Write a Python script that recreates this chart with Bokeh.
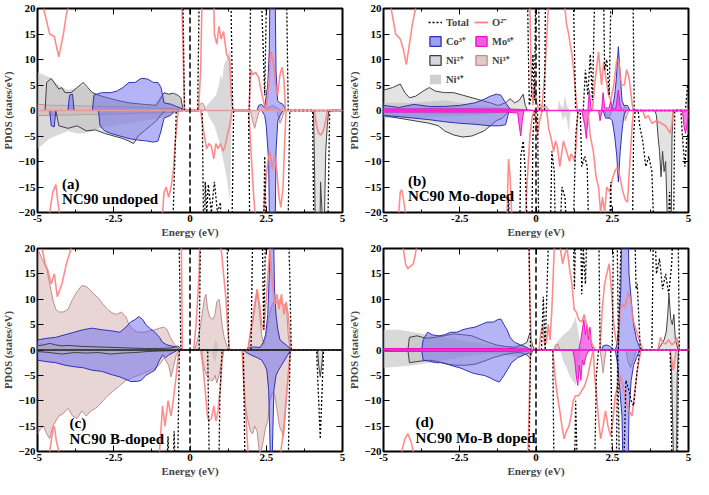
from bokeh.plotting import figure
from bokeh.models import (ColumnDataSource, FixedTicker, LinearAxis, Span, Legend,
                          LegendItem, Range1d, Label)
from bokeh.layouts import gridplot
from bokeh.embed import file_html
from bokeh.resources import INLINE

# ---------------- data (energy eV, PDOS states/eV); +-30 = off scale ----------------
# Panel (a) NC90 undoped
a_tot_up = [(-5,30),(-0.25,30),(-0.18,0),(0.25,0),(0.32,30),(1.32,30),(1.4,0),(1.95,0),(2.0,30),(2.3,30),(2.45,3),(2.53,30),(3.15,30),(3.22,0),(5,0)]
a_tot_dn = [(-5,-30),(-0.6,-30),(-0.45,0),(0.4,0),(0.46,-30),(0.5,-14),(0.55,-20),(0.6,-14.5),(0.7,-20),(0.8,-14),(0.9,-20),(1.0,-18),(1.05,-30),(1.36,-30),(1.43,0),(1.92,0),(1.97,-30),(2.4,-30),(2.45,-9),(2.52,-30),(3.2,-30),(3.27,0),(4.02,0),(4.07,-30),(4.5,-30),(4.58,0),(5,0)]
a_o_up = [(-5,30),(-4.8,20),(-4.6,15),(-4.45,14.5),(-4.3,10.5),(-4.15,15),(-4.05,19),(-3.95,21),(-3.9,30),(-0.3,30),(-0.22,10),(-0.18,0),(0.28,0),(0.35,8),(0.42,30),(0.75,30),(0.8,15),(0.88,13),(0.95,16.5),(1.02,14),(1.1,15.5),(1.2,11),(1.3,10),(1.35,3),(1.4,0),(1.93,0),(1.97,5),(2.0,8),(2.05,7),(2.15,7.5),(2.25,6.5),(2.33,4),(2.42,1.5),(2.5,0),(2.58,5),(2.65,11.5),(2.72,10),(2.8,5),(2.87,3),(2.95,7),(3.02,8.5),(3.08,6),(3.13,0),(5,0)]
a_o_dn = [(-5,-30),(-4.65,-30),(-4.6,-20),(-4.5,-16),(-4.4,-14.5),(-4.33,-18),(-4.28,-20),(-4.2,-30),(-0.95,-30),(-0.9,-20),(-0.85,-16),(-0.78,-15),(-0.7,-17),(-0.62,-15),(-0.55,-12),(-0.48,-6),(-0.42,-2),(-0.38,0),(0.35,0),(0.42,-3),(0.5,-6),(0.55,-7.5),(0.62,-6.5),(0.7,-7),(0.78,-9.5),(0.85,-6.5),(0.92,-7.5),(1.0,-6.5),(1.08,-8),(1.15,-7),(1.22,-5),(1.3,-3),(1.38,0),(1.93,0),(2.0,-8),(2.08,-16),(2.13,-20),(2.2,-30),(2.35,-30),(2.42,-20),(2.47,-15),(2.55,-10),(2.62,-8),(2.7,-11.5),(2.78,-9),(2.85,-12),(2.92,-17),(2.98,-19),(3.05,-15),(3.1,-7),(3.15,0),(4.08,0),(4.15,-3),(4.22,-4.5),(4.3,-4.8),(4.38,-3.8),(4.45,-2),(4.5,0),(5,0)]
a_co_up = [(-5,0),(-4.0,0),(-3.95,3.0),(-3.85,3.2),(-3.8,0),(-3.2,0),(-3.15,3),(-2.9,3.5),(-2.6,3.5),(-2.4,3.8),(-2.2,4.5),(-2.0,5.5),(-1.8,5.5),(-1.6,6.3),(-1.4,6.2),(-1.2,5.5),(-1.05,5.5),(-0.95,4.5),(-0.85,1.5),(-0.6,1.2),(-0.45,0.8),(-0.3,0.5),(-0.2,0),(2.2,0),(2.25,1),(2.35,1.2),(2.45,0.5),(2.5,3),(2.55,5),(2.6,12),(2.63,30),(2.78,30),(2.82,8),(2.87,2),(2.95,1.5),(3.05,1.2),(3.15,0),(5,0)]
a_co_dn = [(-5,0),(-4.6,0),(-4.55,-3),(-4.45,-3.2),(-4.4,0),(-3.0,0),(-2.95,-3),(-2.8,-4),(-2.6,-4.5),(-2.3,-5),(-2.0,-5.5),(-1.7,-5.8),(-1.4,-6),(-1.2,-6.2),(-1.05,-6),(-0.95,-4),(-0.85,-1.5),(-0.65,-1),(-0.5,0),(2.35,0),(2.45,-1),(2.5,-3),(2.58,-10),(2.62,-30),(2.78,-30),(2.82,-8),(2.88,-2),(2.95,-1),(3.05,0),(5,0)]
a_ni2_up = [(-5,0),(-4.75,0),(-4.7,5.5),(-4.55,6.3),(-4.4,5),(-4.3,4.2),(-4.2,4.5),(-4.1,3.5),(-3.9,3.5),(-3.7,4.5),(-3.5,5.5),(-3.35,4.5),(-3.2,3.5),(-3.0,3.0),(-2.7,2.5),(-2.4,2),(-2.0,1.5),(-1.5,1.2),(-1.1,1),(-0.95,2.5),(-0.85,3.5),(-0.7,3.2),(-0.55,3.4),(-0.4,3.0),(-0.3,2.5),(-0.22,0),(5,0)]
a_ni2_dn = [(-5,0),(-4.4,0),(-4.3,-3),(-4.0,-3.5),(-3.7,-3),(-3.4,-4),(-3.1,-3.8),(-2.8,-4.5),(-2.5,-5),(-2.2,-5.5),(-2.0,-6),(-1.85,-6.5),(-1.7,-5),(-1.5,-4),(-1.3,-3),(-1.1,-2),(-0.95,-0.8),(-0.8,0),(4.05,0),(4.08,-10),(4.12,-30),(4.25,-30),(4.28,-14),(4.33,-20),(4.38,-30),(4.45,-8),(4.5,-3),(4.55,0),(5,0)]
a_ni3_up = [(-5,1.2),(-4.5,1),(-4,1),(-3.5,0.9),(-3,0.8),(-2.5,0.8),(-2,0.7),(-1.5,0.6),(-1,0.5),(-0.5,0.3),(-0.2,0),(0.25,0),(0.3,1),(0.38,1.5),(0.45,1.2),(0.5,0),(2.5,0),(2.55,0.5),(2.7,1),(2.85,0.5),(3.0,0),(5,0)]
a_ni3_dn = [(-5,-1),(-4.5,-0.9),(-4,-0.9),(-3.5,-0.8),(-3,-0.8),(-2.5,-0.7),(-2,-0.6),(-1.5,-0.5),(-1,-0.5),(-0.5,-0.3),(-0.2,0),(1.98,0),(2.05,-2),(2.12,-3.5),(2.18,-2),(2.25,-0.5),(2.3,0),(2.85,0),(2.9,-1.5),(2.95,-2.5),(3.02,-1.5),(3.1,0),(5,0)]
a_ni4_up = [(-5,7.5),(-4.8,7),(-4.6,6.5),(-4.4,5.5),(-4.2,4.5),(-4,4),(-3.7,4.5),(-3.5,5),(-3.3,4),(-3,3),(-2.7,2.5),(-2.4,2),(-2,1.5),(-1.6,1.2),(-1.2,1),(-1,2.5),(-0.85,3.5),(-0.6,3.2),(-0.4,3),(-0.3,2),(-0.22,0),(0.45,0),(0.55,1),(0.7,2),(0.85,3),(0.95,5),(1.0,7),(1.05,6),(1.12,9),(1.2,10),(1.28,11.5),(1.33,12),(1.37,0),(5,0)]
a_ni4_dn = [(-5,-7.5),(-4.8,-6.5),(-4.6,-5.5),(-4.4,-5),(-4.2,-4.5),(-4,-4),(-3.7,-4.5),(-3.5,-4.5),(-3.2,-4),(-3,-3.5),(-2.5,-3),(-2,-2.5),(-1.5,-2),(-1,-1.5),(-0.6,-1),(-0.3,0),(0.55,0),(0.6,-1),(0.7,-2),(0.8,-3),(0.9,-5),(1.0,-7),(1.1,-10),(1.2,-13),(1.27,-16),(1.32,-18),(1.37,0),(5,0)]

# Panel (b) NC90 Mo-doped
b_tot_up = [(-5,30),(-0.3,30),(-0.22,1),(-0.15,3),(-0.1,11),(-0.05,2),(0.0,30),(0.08,30),(0.12,0),(0.28,0),(0.32,30),(1.2,30),(1.3,0),(1.55,0),(1.62,8),(1.7,3),(1.78,11),(1.85,2),(1.95,30),(2.2,30),(2.25,8),(2.32,10),(2.4,3),(2.48,30),(3.17,30),(3.22,0),(4.9,0),(4.97,5),(5,5)]
b_tot_dn = [(-5,-30),(-0.95,-30),(-0.9,-17),(-0.82,-30),(-0.55,-30),(-0.5,-9),(-0.42,-6),(-0.35,-12),(-0.25,-30),(-0.15,-30),(-0.1,-5),(-0.05,0),(0.05,0),(0.1,-30),(0.45,-30),(0.52,-8),(0.6,-12),(0.65,-30),(0.75,-30),(0.85,-15),(0.95,-17),(1.05,-30),(1.2,-30),(1.3,-5),(1.38,0),(1.45,0),(1.5,-11),(1.6,-9),(1.68,-11),(1.75,-30),(2.4,-30),(2.45,-14),(2.5,-30),(3.15,-30),(3.2,-5),(3.25,0),(3.35,0),(3.4,-3),(3.5,-6),(3.6,-11),(3.7,-9),(3.8,-12),(3.9,-30),(4.3,-30),(4.38,-16),(4.45,-30),(4.5,-30),(4.55,0),(4.75,0),(4.8,-5),(4.88,-11),(4.95,-5),(5,-5)]
b_o_up = [(-5,30),(-4.75,20),(-4.6,15),(-4.45,14),(-4.35,12),(-4.25,9),(-4.15,13),(-4.05,17),(-3.95,20),(-3.85,30),(-0.3,30),(-0.2,20),(-0.15,5),(-0.1,1),(-0.05,5.5),(0.0,2),(0.1,0),(0.2,1),(0.3,8),(0.4,20),(0.45,30),(0.9,30),(0.95,20),(1.0,17),(1.07,15),(1.12,13),(1.18,11),(1.25,7),(1.32,2),(1.36,0),(1.85,0),(1.92,5),(2.0,9),(2.05,11.5),(2.1,8),(2.15,5),(2.22,9.5),(2.3,6),(2.38,3),(2.45,2),(2.55,5),(2.65,10),(2.72,9.5),(2.8,5),(2.9,5),(2.97,8),(3.05,6.5),(3.12,3),(3.18,0),(5,0)]
b_o_dn = [(-5,-30),(-4.55,-30),(-4.5,-20),(-4.45,-16),(-4.4,-15.5),(-4.33,-18),(-4.28,-20),(-4.2,-30),(-1.0,-30),(-0.95,-20),(-0.9,-9.5),(-0.85,-13),(-0.8,-20),(-0.75,-30),(-0.4,-30),(-0.3,-15),(-0.2,-5),(-0.12,-1),(-0.05,0),(0.0,-2),(0.05,-4.8),(0.12,-2),(0.2,0),(0.35,0),(0.42,-3.7),(0.5,-5.6),(0.58,-8),(0.64,-6),(0.7,-7),(0.78,-11),(0.84,-8.5),(0.9,-6),(1.0,-8),(1.1,-10),(1.15,-8.5),(1.2,-9),(1.27,-10),(1.32,-6.5),(1.37,0),(1.7,0),(1.78,-5),(1.88,-8),(1.97,-13),(2.05,-15),(2.12,-20),(2.18,-17),(2.25,-20),(2.32,-15),(2.42,-16),(2.5,-13.5),(2.58,-12),(2.67,-11),(2.75,-13),(2.85,-16),(2.93,-17.5),(3.0,-18),(3.08,-10),(3.15,-3),(3.2,0),(3.5,0),(3.58,-1.5),(3.68,-1),(3.8,-2.5),(3.95,-2),(4.1,-2.5),(4.25,-3),(4.4,-4.5),(4.45,-3),(4.5,0),(5,0)]
b_co_up = [(-5,1),(-4.5,0.6),(-4,1.2),(-3.5,0.8),(-3,0.8),(-2.5,1),(-2,1.5),(-1.7,2.2),(-1.5,2.8),(-1.3,3.2),(-1.15,3),(-1.0,1.5),(-0.85,0.3),(-0.8,0),(2.45,0),(2.52,1),(2.58,3),(2.63,6),(2.7,12.5),(2.76,7),(2.82,2),(2.88,1),(3.0,1),(3.08,0),(5,0)]
b_co_dn = [(-5,-1),(-4.5,-1.2),(-4.0,-1.5),(-3.5,-1.8),(-3.0,-2.2),(-2.5,-2.5),(-2.0,-2.7),(-1.5,-3),(-1.2,-3),(-1.0,-2.8),(-0.9,-0.5),(-0.85,0),(2.2,0),(2.28,-1.5),(2.42,-1.5),(2.5,-2),(2.58,-5),(2.65,-9),(2.7,-14),(2.76,-8),(2.82,-4),(2.88,-1),(2.95,0),(5,0)]
b_ni2_up = [(-5,4),(-4.7,4.5),(-4.45,5.2),(-4.3,3.5),(-4.15,2.5),(-3.95,2.8),(-3.7,3.8),(-3.5,4.5),(-3.3,3.8),(-3.0,3.5),(-2.7,3.5),(-2.4,3),(-2.1,2.5),(-1.8,2),(-1.5,1.5),(-1.25,1),(-1.0,1.5),(-0.85,2.3),(-0.7,1.5),(-0.55,2),(-0.42,3.2),(-0.35,1),(-0.28,0),(5,0)]
b_ni2_dn = [(-5,-1),(-4.5,-1.5),(-4.0,-2),(-3.5,-2.5),(-3.2,-3),(-3.0,-4),(-2.7,-4.8),(-2.4,-5.2),(-2.1,-5),(-1.9,-4.5),(-1.7,-4),(-1.5,-3),(-1.3,-2),(-1.1,-1.5),(-0.95,-0.5),(-0.9,0),(3.9,0),(3.95,-1),(4.0,-5),(4.05,-8),(4.1,-13),(4.15,-8),(4.2,-12),(4.25,-10),(4.3,-20),(4.35,-30),(4.42,-30),(4.46,-5),(4.5,0),(5,0)]
b_ni3_up = [(-5,0.3),(-4,0.3),(-3,0.5),(-2,0.3),(-1,0.2),(-0.3,0),(0.15,0),(0.2,0.8),(0.35,0.8),(0.42,0),(2.85,0),(2.9,0.8),(3.0,0.3),(3.05,0),(5,0)]
b_ni3_dn = [(-5,-0.3),(-3,-0.5),(-2,-0.5),(-1,-0.3),(-0.3,0),(2.25,0),(2.3,-1),(2.4,-1.5),(2.48,0),(2.88,0),(2.93,-2),(2.98,-1),(3.05,0),(5,0)]
b_ni4_up = [(-5,1.5),(-4,1.5),(-3,2),(-2.5,1.5),(-2,1),(-1.5,0.8),(-1,0.5),(-0.5,0.3),(-0.3,0),(0.7,0),(0.75,2),(0.82,1),(0.88,0.5),(0.95,3),(1.02,1),(1.1,0),(5,0)]
b_ni4_dn = [(-5,-1.5),(-4,-1.5),(-3,-1.2),(-2,-1),(-1,-0.5),(-0.3,0),(0.8,0),(0.88,-2),(0.95,-1),(1.02,-2),(1.08,-4.5),(1.12,-1),(1.15,0),(5,0)]
b_mo_up = [(-5,0.3),(-4,0.3),(-3,0.3),(-2,0.3),(-1,0.3),(-0.5,0.2),(0,0),(1.7,0),(1.75,4),(1.8,0.5),(1.85,0),(2.15,0),(2.2,3.5),(2.25,0.5),(2.4,0.5),(2.45,2),(2.5,0.3),(2.62,0.5),(2.7,4),(2.76,1),(2.82,0),(5,0)]
b_mo_dn = [(-5,-0.3),(-4,-0.3),(-3,-0.3),(-2,-0.3),(-1,-0.3),(-0.6,-0.5),(-0.55,-3),(-0.5,-5),(-0.45,-2),(-0.4,0),(1.5,0),(1.55,-1.5),(1.6,-3),(1.65,-5.5),(1.7,-2),(1.75,0),(2.05,0),(2.1,-2),(2.15,-0.5),(2.2,0),(4.8,0),(4.85,-3),(4.9,-4.5),(4.95,-3),(5,-1)]

# Panel (c) NC90 B-doped
c_tot_up = [(-5,30),(-0.38,30),(-0.3,0),(0.3,0),(0.36,30),(1.2,30),(1.27,0),(2.0,0),(2.07,30),(2.35,30),(2.42,4),(2.5,30),(3.2,30),(3.27,15),(3.32,0),(5,0)]
c_tot_dn = [(-5,-30),(-0.8,-30),(-0.72,-17),(-0.66,-30),(-0.58,-30),(-0.52,-16),(-0.46,-30),(-0.42,-30),(-0.35,0),(0.58,0),(0.65,-30),(0.93,-30),(0.98,-9),(1.05,0),(1.75,0),(1.82,-30),(3.2,-30),(3.28,0),(4.15,0),(4.22,-10),(4.27,-17.5),(4.33,-8),(4.38,0),(5,0)]
c_o_up = [(-5,30),(-4.85,20),(-4.75,17),(-4.65,15.5),(-4.55,13),(-4.45,15),(-4.35,10.5),(-4.2,13),(-4.05,17),(-3.9,20),(-3.8,30),(-0.3,30),(-0.25,0),(0.12,0),(0.2,5),(0.3,15),(0.35,30),(0.95,30),(1.02,20),(1.1,15),(1.18,10),(1.25,3),(1.3,0),(1.9,0),(1.97,3),(2.05,6),(2.12,9),(2.2,12),(2.28,9),(2.35,5),(2.42,4),(2.5,10),(2.57,16),(2.62,20),(2.7,13),(2.78,9),(2.85,11),(2.92,8),(3.0,11),(3.08,7),(3.15,9.5),(3.22,7),(3.28,2),(3.32,0),(5,0)]
c_o_dn = [(-5,-30),(-4.65,-30),(-4.6,-20),(-4.5,-16),(-4.45,-15),(-4.38,-18),(-4.3,-20),(-4.25,-30),(-1.05,-30),(-1.0,-20),(-0.9,-11),(-0.82,-15),(-0.72,-10),(-0.62,-13),(-0.55,-10),(-0.45,-5),(-0.38,-1),(-0.32,0),(0.35,0),(0.42,-3),(0.5,-8),(0.57,-13),(0.62,-14),(0.7,-13.5),(0.78,-11),(0.85,-14),(0.92,-12),(1.0,-7),(1.05,-2),(1.1,0),(1.72,0),(1.78,-8),(1.85,-15),(1.9,-20),(1.95,-30),(2.9,-30),(2.98,-20),(3.08,-15),(3.18,-8),(3.25,-3),(3.3,0),(5,0)]
c_co_up = [(-5,2),(-4.7,2.3),(-4.4,2.5),(-4.1,3),(-3.8,3.5),(-3.5,4),(-3.2,4.3),(-2.9,4),(-2.6,3.8),(-2.3,3.5),(-2.1,4.5),(-1.95,5.5),(-1.8,6),(-1.68,6.6),(-1.55,6),(-1.45,5),(-1.3,4.2),(-1.15,3.5),(-1.0,2.5),(-0.9,1.5),(-0.75,1),(-0.6,0.8),(-0.45,0.5),(-0.3,0),(1.85,0),(1.9,0.5),(2.1,0.6),(2.3,0.5),(2.4,1.5),(2.48,3),(2.55,7),(2.6,15),(2.64,30),(2.72,30),(2.77,12),(2.82,7),(2.88,4),(2.95,2),(3.05,1.5),(3.15,1),(3.25,0.5),(3.3,0),(5,0)]
c_co_dn = [(-5,-2),(-4.7,-2.3),(-4.4,-2.5),(-4.1,-3),(-3.8,-3.3),(-3.5,-3.5),(-3.2,-4),(-2.9,-4.2),(-2.6,-4.8),(-2.3,-5.3),(-2.1,-5.8),(-1.95,-6.2),(-1.75,-6.2),(-1.6,-6),(-1.45,-5),(-1.3,-4.5),(-1.15,-4),(-1.0,-2),(-0.9,-1),(-0.8,-1.5),(-0.7,-1),(-0.55,-0.5),(-0.4,0),(1.75,0),(1.85,-0.5),(2.0,-1),(2.2,-1.5),(2.35,-2),(2.45,-3),(2.52,-4),(2.58,-8),(2.63,-20),(2.66,-30),(2.7,-20),(2.75,-8),(2.82,-5),(2.9,-4),(3.0,-3),(3.1,-2),(3.2,-1),(3.3,0),(5,0)]
c_ni2_up = [(-5,0.8),(-4.8,1),(-4.6,1.3),(-4.4,1),(-4.2,0.8),(-4.0,0.9),(-3.5,0.7),(-3.0,0.6),(-2.5,0.5),(-2.0,0.4),(-1.5,0.3),(-1.0,0.3),(-0.6,0.4),(-0.4,0.8),(-0.3,0.3),(-0.2,0),(5,0)]
c_ni2_dn = [(-5,-0.3),(-4.6,-0.5),(-4.2,-0.8),(-3.8,-0.5),(-3.4,-0.6),(-3.0,-0.5),(-2.6,-0.8),(-2.2,-0.6),(-1.8,-0.5),(-1.4,-0.3),(-1.0,-0.2),(-0.5,-0.1),(-0.3,0),(4.18,0),(4.22,-3),(4.27,-5.3),(4.32,-3),(4.36,0),(5,0)]
c_ni3_up = [(-5,20),(-4.85,18),(-4.7,16),(-4.6,13),(-4.5,10),(-4.4,8),(-4.3,7.5),(-4.15,7.5),(-4.0,8),(-3.85,10),(-3.7,11.5),(-3.55,12.7),(-3.4,12.5),(-3.3,12),(-3.15,11),(-3.0,10.2),(-2.85,9),(-2.7,8),(-2.55,7.3),(-2.4,7),(-2.25,7.5),(-2.1,6.5),(-2.0,5),(-1.85,4),(-1.7,3.5),(-1.5,3.5),(-1.3,3.8),(-1.15,4),(-1.0,4.3),(-0.85,4.5),(-0.75,4),(-0.65,2.5),(-0.5,1),(-0.4,0.5),(-0.3,0),(0.15,0),(0.25,2),(0.35,5),(0.42,8),(0.47,10),(0.52,11),(0.58,8),(0.65,6.5),(0.75,6),(0.82,7),(0.88,9.5),(0.95,10),(1.0,8),(1.05,5),(1.12,2.5),(1.2,1),(1.25,0),(1.9,0),(1.97,3),(2.05,5),(2.12,8),(2.2,11.5),(2.27,8),(2.35,3),(2.42,1),(2.5,3),(2.6,7),(2.7,9),(2.8,10),(2.88,9),(2.95,10),(3.03,9),(3.1,9),(3.17,8),(3.22,3),(3.28,0),(5,0)]
c_ni3_dn = [(-5,-16.5),(-4.9,-15.5),(-4.8,-15),(-4.7,-16.5),(-4.6,-17.5),(-4.5,-15),(-4.4,-14),(-4.3,-13),(-4.15,-12.5),(-4.0,-11.5),(-3.85,-13),(-3.7,-13.5),(-3.55,-12),(-3.4,-13),(-3.25,-12),(-3.1,-11.5),(-3.0,-11),(-2.85,-10),(-2.7,-9),(-2.5,-8),(-2.3,-7),(-2.1,-6),(-1.9,-5.5),(-1.7,-5),(-1.5,-4.5),(-1.3,-4),(-1.1,-3.5),(-0.95,-2.5),(-0.85,-1.5),(-0.7,-3),(-0.62,-5.3),(-0.55,-3.5),(-0.45,-1),(-0.35,0),(0.38,0),(0.42,-2),(0.48,-4),(0.55,-5),(0.62,-5.5),(0.68,-6),(0.75,-6),(0.82,-5),(0.88,-6.5),(0.95,-5),(1.02,-3),(1.08,-1),(1.12,0),(1.7,0),(1.75,-6),(1.82,-11),(1.9,-14),(1.98,-16),(2.05,-16.5),(2.12,-15),(2.2,-16),(2.27,-20),(2.33,-20),(2.4,-18),(2.47,-15.5),(2.55,-14),(2.62,-10),(2.7,-8.5),(2.78,-9),(2.86,-12),(2.93,-15),(3.0,-16),(3.07,-17),(3.13,-12),(3.2,-6),(3.27,-2),(3.3,0),(5,0)]
c_ni4_up = [(-5,1.5),(-4.5,1.2),(-4,1),(-3,0.8),(-2,0.5),(-1,0.3),(-0.3,0),(0.75,0),(0.8,1.5),(0.85,2),(0.9,1),(0.95,0),(5,0)]
c_ni4_dn = [(-5,-0.5),(-4,-0.5),(-3,-0.3),(-2,-0.3),(-1,-0.2),(-0.3,0),(0.7,0),(0.75,-1.5),(0.82,-2.5),(0.88,-1),(0.93,0),(5,0)]

# Panel (d) NC90 Mo-B doped
d_tot_up = [(-5,30),(-0.25,30),(-0.18,0),(0.18,0),(0.24,10.5),(0.3,0),(0.45,30),(1.2,30),(1.26,12),(1.32,30),(1.45,30),(1.5,11),(1.55,20),(1.62,13),(1.7,30),(2.05,30),(2.1,0),(2.5,0),(2.55,30),(2.65,30),(2.7,0),(2.82,30),(3.22,30),(3.28,12),(3.32,13),(3.42,0),(3.8,0),(3.86,30),(3.95,15),(4.05,18),(4.15,12),(4.25,15),(4.35,11),(4.45,17),(4.52,30),(4.65,30),(4.7,0),(5,0)]
d_tot_dn = [(-5,-30),(-0.25,-30),(-0.18,0),(0.55,0),(0.6,-30),(1.25,-30),(1.3,-10),(1.38,-30),(1.9,-30),(1.98,-5),(2.05,0),(2.45,0),(2.52,-30),(2.62,-30),(2.68,0),(2.75,-30),(2.85,-30),(2.95,-6),(3.05,-8),(3.12,-10),(3.2,-11),(3.3,-5),(3.4,0),(4.4,0),(4.48,-30),(4.62,-30),(4.68,0),(5,0)]
d_o_up = [(-5,30),(-4.4,30),(-4.35,20),(-4.28,17),(-4.2,16),(-4.12,16.5),(-4.02,17),(-3.92,20),(-3.85,30),(-0.25,30),(-0.2,10),(-0.15,0),(0.1,0),(0.15,3),(0.22,5),(0.28,1),(0.34,1.5),(0.4,5),(0.46,2),(0.52,8),(0.6,20),(0.65,30),(0.75,30),(0.8,20),(0.87,17),(0.95,19),(1.02,20),(1.1,16),(1.18,13),(1.25,8),(1.32,7.5),(1.4,6),(1.5,5.5),(1.58,7),(1.66,5),(1.75,3),(1.85,1),(1.95,0),(2.1,0),(2.17,8),(2.25,13),(2.32,15),(2.4,17),(2.47,12),(2.55,5),(2.62,2),(2.7,1),(2.76,8),(2.85,9),(2.93,8.5),(3.02,11.5),(3.1,10),(3.18,6),(3.28,4),(3.38,2),(3.5,0),(4.0,0),(4.08,2.5),(4.15,1.5),(4.25,1.2),(4.35,2),(4.45,1),(4.55,1.5),(4.62,2.5),(4.7,0),(5,0)]
d_o_dn = [(-5,-30),(-4.45,-30),(-4.4,-20),(-4.3,-17.5),(-4.2,-16.5),(-4.1,-18),(-4.02,-20),(-3.95,-30),(-0.3,-30),(-0.22,-10),(-0.18,0),(0.55,0),(0.62,-5),(0.7,-9),(0.78,-12),(0.85,-15),(0.92,-17.5),(1.0,-16),(1.08,-15),(1.15,-13),(1.22,-10),(1.3,-9),(1.4,-9),(1.5,-8),(1.6,-7),(1.7,-5),(1.8,-2),(1.88,0),(1.92,-5),(2.0,-10),(2.07,-15),(2.12,-17.5),(2.2,-15),(2.28,-12),(2.36,-15),(2.45,-17),(2.52,-14),(2.6,-9),(2.68,-7),(2.76,-5),(2.85,-7),(2.95,-10),(3.05,-12),(3.15,-13),(3.22,-9),(3.3,-5),(3.38,-2),(3.45,0),(4.4,0),(4.45,-2),(4.5,-4),(4.55,-2),(4.6,0),(5,0)]
d_co_up = [(-5,0),(-3.75,0),(-3.7,2),(-3.55,3.5),(-3.4,3),(-3.2,2.8),(-3.0,3),(-2.8,3.5),(-2.6,3.5),(-2.4,4),(-2.2,4.3),(-2.0,4.5),(-1.8,5),(-1.6,5.5),(-1.4,5.5),(-1.25,6),(-1.15,6.1),(-1.05,5),(-0.95,4),(-0.85,2.5),(-0.7,1.5),(-0.5,1),(-0.3,0.5),(-0.15,0),(2.15,0),(2.2,0.8),(2.3,1),(2.4,0.8),(2.5,0.3),(2.6,0),(2.65,1),(2.72,5),(2.78,12),(2.83,30),(3.0,30),(3.05,15),(3.12,10),(3.2,5),(3.3,2),(3.4,0.5),(3.5,0),(5,0)]
d_co_dn = [(-5,0),(-3.75,0),(-3.7,-2),(-3.5,-2.2),(-3.3,-2.5),(-3.1,-2.5),(-2.9,-2.8),(-2.7,-3.2),(-2.5,-3.5),(-2.3,-4),(-2.1,-4.5),(-1.9,-4.8),(-1.7,-5),(-1.5,-5.5),(-1.35,-6),(-1.2,-6.3),(-1.05,-5),(-0.95,-4),(-0.8,-2.5),(-0.6,-1.5),(-0.4,-1),(-0.2,-0.5),(-0.1,0),(2.6,0),(2.68,-3),(2.75,-8),(2.82,-13),(2.87,-30),(3.0,-30),(3.05,-12),(3.12,-6),(3.2,-3),(3.3,-1.5),(3.4,0),(5,0)]
d_ni2_up = [(-5,0),(-4.2,0),(-4.15,2.5),(-3.9,2.8),(-3.6,2.3),(-3.3,2.5),(-3.0,2.8),(-2.7,3.2),(-2.4,3),(-2.1,2.8),(-1.9,2.3),(-1.6,1.6),(-1.3,1),(-1.0,0.7),(-0.7,0.5),(-0.45,1),(-0.3,1.5),(-0.2,3.4),(-0.12,1),(-0.05,0),(4.0,0),(4.1,1),(4.2,2),(4.27,3.5),(4.32,7),(4.36,11),(4.42,6),(4.47,5),(4.52,7),(4.57,2),(4.62,1),(4.66,0),(5,0)]
d_ni2_dn = [(-5,0),(-4.2,0),(-4.15,-2.5),(-3.8,-2.2),(-3.5,-2),(-3.2,-2.3),(-2.9,-2.8),(-2.6,-3),(-2.3,-3),(-2.0,-2.8),(-1.7,-2.2),(-1.4,-1.5),(-1.1,-1),(-0.8,-0.6),(-0.5,-0.5),(-0.3,-1),(-0.2,-1.5),(-0.1,0),(4.4,0),(4.45,-5),(4.5,-20),(4.53,-30),(4.6,-30),(4.63,-5),(4.67,0),(5,0)]
d_ni3_up = [(-5,0.2),(-2,0.2),(-0.2,0),(0.6,0),(0.65,1),(0.72,1.2),(0.78,0),(5,0)]
d_ni3_dn = [(-5,-0.2),(-2,-0.2),(-0.2,0),(2.1,0),(2.15,-2),(2.2,-4.5),(2.25,-2),(2.3,0),(2.95,0),(3.0,-2),(3.1,-3.5),(3.2,-2),(3.28,0),(5,0)]
d_ni4_up = [(-5,4),(-4.5,4),(-4,3.5),(-3.5,3),(-3,2.5),(-2.5,2),(-2,1.5),(-1.5,1),(-1,0.8),(-0.5,1),(-0.2,0),(0.55,0),(0.62,1),(0.75,2),(0.9,3),(1.0,3.5),(1.1,4),(1.2,5),(1.3,6.5),(1.38,4),(1.45,1),(1.5,0),(5,0)]
d_ni4_dn = [(-5,-3.5),(-4.5,-3.3),(-4,-3),(-3.5,-2.5),(-3,-2),(-2.5,-1.5),(-2,-1),(-1.5,-0.8),(-1,-1),(-0.5,-1.5),(-0.2,0),(0.8,0),(0.88,-2),(1.0,-3.5),(1.1,-5),(1.2,-6),(1.3,-7),(1.38,-4),(1.45,-1),(1.5,0),(5,0)]
d_mo_up = [(-5,0.3),(-1,0.3),(-0.2,0.2),(0,0),(1.4,0),(1.47,2),(1.52,4),(1.57,6),(1.62,3),(1.67,5),(1.72,2),(1.77,4.5),(1.82,1),(1.88,0),(5,0)]
d_mo_dn = [(-5,-0.3),(-1,-0.3),(-0.2,-0.2),(0,0),(1.2,0),(1.27,-2),(1.32,-5),(1.37,-7),(1.42,-3),(1.47,-6),(1.52,-2),(1.57,-3),(1.65,-1),(1.75,0),(5,0)]

panel_tags = ["(a)", "(b)", "(c)", "(d)"]
panel_names = ["NC90 undoped", "NC90 Mo-doped", "NC90 B-doped", "NC90 Mo-B doped"]
x_ticks = [-5, -2.5, 0, 2.5, 5]
x_tick_labels = ["-5", "-2.5", "0", "2.5", "5"]
y_ticks = [-20, -15, -10, -5, 0, 5, 10, 15, 20]
legend_labels = ["Total", "O\u00b2\u207b", "Co\u00b3\u207a", "Mo\u2076\u207a", "Ni\u00b2\u207a", "Ni\u00b3\u207a", "Ni\u2074\u207a"]

# ---------------- styles ----------------
FONT = "Liberation Serif"
STY = {
    "ni4": dict(fill="#c4c4c4", alpha=0.65, line=None),
    "ni3": dict(fill="#d4b4b0", alpha=0.55, line="#c08c8c"),
    "ni2": dict(fill="#b8b8b8", alpha=0.4, line="#404040"),
    "co":  dict(fill="#6a6af0", alpha=0.5, line="#3030b8"),
    "mo":  dict(fill="#f040d8", alpha=0.7, line="#ee10c8"),
}
O_COLOR = "#ff8080"

panels = [
    dict(tot=(a_tot_up, a_tot_dn), o=(a_o_up, a_o_dn),
         fills=[("ni4", a_ni4_up, a_ni4_dn), ("ni3", a_ni3_up, a_ni3_dn), ("ni2", a_ni2_up, a_ni2_dn),
                ("co", a_co_up, a_co_dn)], zero="#e89a9a"),
    dict(tot=(b_tot_up, b_tot_dn), o=(b_o_up, b_o_dn),
         fills=[("ni4", b_ni4_up, b_ni4_dn), ("ni3", b_ni3_up, b_ni3_dn), ("ni2", b_ni2_up, b_ni2_dn),
                ("co", b_co_up, b_co_dn), ("mo", b_mo_up, b_mo_dn)], zero="#ff22cc"),
    dict(tot=(c_tot_up, c_tot_dn), o=(c_o_up, c_o_dn),
         fills=[("ni4", c_ni4_up, c_ni4_dn), ("ni3", c_ni3_up, c_ni3_dn), ("co", c_co_up, c_co_dn),
                ("ni2", c_ni2_up, c_ni2_dn)], zero="#222222"),
    dict(tot=(d_tot_up, d_tot_dn), o=(d_o_up, d_o_dn),
         fills=[("ni4", d_ni4_up, d_ni4_dn), ("ni3", d_ni3_up, d_ni3_dn), ("ni2", d_ni2_up, d_ni2_dn),
                ("co", d_co_up, d_co_dn), ("mo", d_mo_up, d_mo_dn)], zero="#ff22cc"),
]

tag_pos = [(-4.2, -14.5, -17.3), (-4.2, -13.9, -16.8), (-3.95, -14.4, -17.6), (-3.95, -14.2, -17.3)]
sizes = [(346, 240, 8), (346, 240, 8), (346, 239, 8), (346, 239, 8)]
MINOR_X = [-3.75, -1.25, 1.25, 3.75]


def src(pts):
    return ColumnDataSource(dict(x=[p[0] for p in pts], y=[p[1] for p in pts]))


def style_axis(ax, labels=True):
    ax.axis_line_color = None
    ax.major_tick_in = 6
    ax.major_tick_out = 0
    ax.minor_tick_in = 3
    ax.minor_tick_out = 0
    ax.major_tick_line_color = "black"
    ax.minor_tick_line_color = "black"
    ax.major_label_text_font = FONT
    ax.major_label_text_font_style = "bold"
    ax.major_label_text_font_size = "11px"
    ax.major_label_text_color = "black"
    ax.major_label_standoff = 2 if labels else 0
    ax.axis_label_text_font = FONT
    ax.axis_label_text_font_style = "bold"
    ax.axis_label_text_font_size = "11px"
    ax.axis_label_standoff = 1


figs = []
for i, pan in enumerate(panels):
    w, h, top = sizes[i]
    p = figure(width=w, height=h, x_range=Range1d(-5, 5), y_range=Range1d(-20, 20),
               output_backend="svg", toolbar_location=None,
               min_border_left=30, min_border_right=4, min_border_top=top, min_border_bottom=24,
               background_fill_color="white", border_fill_color="white")
    p.grid.visible = False
    p.outline_line_color = "black"
    p.outline_line_width = 2
    p.xaxis.ticker = FixedTicker(ticks=x_ticks, minor_ticks=MINOR_X)
    p.yaxis.ticker = FixedTicker(ticks=y_ticks, minor_ticks=[])
    p.xaxis.major_label_overrides = {t: l for t, l in zip(x_ticks, x_tick_labels)}
    p.xaxis.axis_label = "Energy (eV)"
    p.yaxis.axis_label = "PDOS (states/eV)"
    style_axis(p.xaxis[0])
    style_axis(p.yaxis[0])
    p.yaxis.axis_label_text_font_size = "10.5px"
    ra = LinearAxis(ticker=FixedTicker(ticks=y_ticks, minor_ticks=[]),
                    major_label_overrides={t: "" for t in y_ticks})
    ta = LinearAxis(ticker=FixedTicker(ticks=x_ticks, minor_ticks=MINOR_X),
                    major_label_overrides={t: "" for t in x_ticks})
    style_axis(ra, labels=False)
    style_axis(ta, labels=False)
    p.add_layout(ra, "right")
    p.add_layout(ta, "above")

    for key, up, dn in pan["fills"]:
        s = STY[key]
        for pts in (up, dn):
            cds = src(pts)
            p.varea(x="x", y1=0, y2="y", source=cds, fill_color=s["fill"], fill_alpha=s["alpha"])
            if s["line"]:
                p.line("x", "y", source=cds, line_color=s["line"], line_width=1)
    for pts in pan["o"]:
        p.line("x", "y", source=src(pts), line_color=O_COLOR, line_width=1.6, line_alpha=0.9)
    for pts in pan["tot"]:
        p.line("x", "y", source=src(pts), line_color="black", line_width=1.3, line_dash="2 2")
    p.add_layout(Span(location=0, dimension="width", line_color=pan["zero"], line_width=1.3))
    p.add_layout(Span(location=0, dimension="height", line_color="black", line_width=1.5,
                      line_dash="6 3"))

    lx, ly1, ly2 = tag_pos[i]
    for txt, ly in ((panel_tags[i], ly1), (panel_names[i], ly2)):
        p.add_layout(Label(x=lx, y=ly, text=txt, text_font=FONT, text_font_style="bold",
                           text_font_size="15px", text_color="black", text_baseline="alphabetic"))
    figs.append(p)

# legend in panel (b): swatch-only renderers (NaN data, never drawn in the plot)
pb = figs[1]
nan = float("nan")
r_tot = pb.line(x=[nan], y=[nan], line_color="black", line_width=1.3, line_dash="2 2")
r_o = pb.line(x=[nan], y=[nan], line_color=O_COLOR, line_width=1.8)
box = {}
for key in ["co", "mo", "ni2", "ni3", "ni4"]:
    s = STY[key]
    box[key] = pb.quad(left=[nan], right=[nan], top=[nan], bottom=[nan],
                       fill_color=s["fill"], fill_alpha=s["alpha"] + 0.15,
                       line_color=s["line"] if s["line"] else None, line_width=1.3)
renders = [r_tot, r_o, box["co"], box["mo"], box["ni2"], box["ni3"], box["ni4"]]
items = [LegendItem(label=lab, renderers=[r]) for lab, r in zip(legend_labels, renders)]
leg = Legend(items=items, location=(42, 123), orientation="horizontal", ncols=2,
             label_text_font=FONT, label_text_font_style="bold", label_text_font_size="10.5px",
             glyph_width=14, glyph_height=12, label_standoff=4, spacing=5, padding=3,
             background_fill_alpha=0, border_line_alpha=0, label_height=12)
pb.add_layout(leg, "center")

grid = gridplot([[figs[0], figs[1]], [figs[2], figs[3]]], toolbar_location=None)

open("out.html", "w").write(file_html(grid, INLINE))
